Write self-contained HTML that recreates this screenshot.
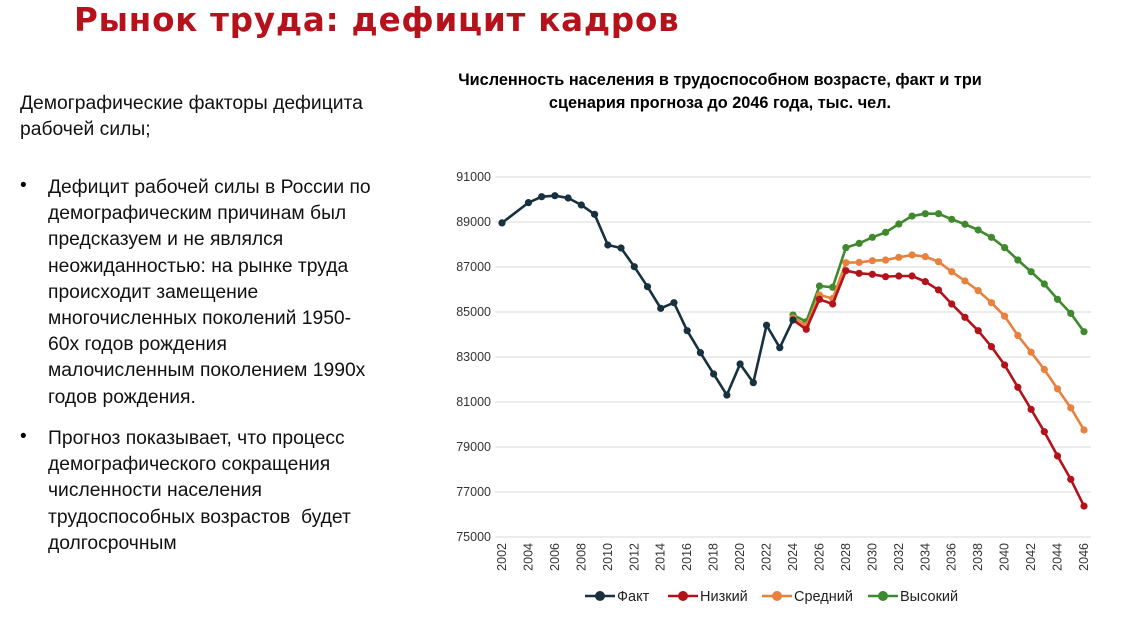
<!DOCTYPE html>
<html><head><meta charset="utf-8">
<style>
body{margin:0;width:1131px;height:617px;background:#fff;overflow:hidden;position:relative;font-family:"Liberation Sans","DejaVu Sans",sans-serif;}
.title{position:absolute;left:74px;top:1px;font-family:"DejaVu Sans",sans-serif;font-weight:bold;font-size:32.5px;color:#b5121b;letter-spacing:0.8px;}
.lt{position:absolute;font-size:19.3px;line-height:26.2px;color:#111;white-space:nowrap;}
.bul{position:absolute;left:20px;font-size:19px;}
.ct{position:absolute;left:420px;width:600px;top:69px;text-align:center;font-weight:bold;font-size:16.3px;line-height:23px;color:#000;}
</style></head><body>
<div class="title">Рынок труда: дефицит кадров</div>
<div class="lt" style="left:20px;top:91px">Демографические факторы дефицита<br>рабочей силы;</div>
<div class="bul" style="top:175px">•</div>
<div class="lt" style="left:48px;top:175px">Дефицит рабочей силы в России по<br>демографическим причинам был<br>предсказуем и не являлся<br>неожиданностью: на рынке труда<br>происходит замещение<br>многочисленных поколений 1950-<br>60х годов рождения<br>малочисленным поколением 1990х<br>годов рождения.</div>
<div class="bul" style="top:426px">•</div>
<div class="lt" style="left:48px;top:426px">Прогноз показывает, что процесс<br>демографического сокращения<br>численности населения<br>трудоспособных возрастов&nbsp; будет<br>долгосрочным</div>
<div class="ct">Численность населения в трудоспособном возрасте, факт и три<br>сценария прогноза до 2046 года, тыс. чел.</div>
<svg id="chart" width="1131" height="617" style="position:absolute;left:0;top:0"></svg>
<script>
const factYears=[2002,2004,2005,2006,2007,2008,2009,2010,2011,2012,2013,2014,2015,2016,2017,2018,2019,2020,2021,2022,2023,2024];
const factValues=[88960,89860,90125,90170,90067,89755,89340,87978,87845,87015,86125,85163,85415,84170,83193,82245,81310,82690,81860,84410,83415,84645];
const scenYears=[2024,2025,2026,2027,2028,2029,2030,2031,2032,2033,2034,2035,2036,2037,2038,2039,2040,2041,2042,2043,2044,2045,2046];
const lowValues=[84645,84230,85565,85355,86835,86720,86675,86570,86600,86600,86350,85980,85355,84765,84170,83460,82645,81655,80675,79680,78600,77565,76375];
const midValues=[84740,84400,85755,85600,87190,87205,87280,87310,87430,87535,87460,87235,86790,86380,85950,85415,84815,83955,83215,82445,81585,80740,79755];
const highValues=[84870,84570,86155,86100,87860,88050,88320,88540,88910,89265,89370,89370,89120,88900,88645,88320,87860,87310,86790,86245,85565,84940,84125];
const yTicks=[75000,77000,79000,81000,83000,85000,87000,89000,91000];
const xTicks=[2002,2004,2006,2008,2010,2012,2014,2016,2018,2020,2022,2024,2026,2028,2030,2032,2034,2036,2038,2040,2042,2044,2046];
const legendLabels=["Факт","Низкий","Средний","Высокий"];
const colors=["#17313f","#b3121b","#e8803e","#3f8a2e"];

const svg=document.getElementById('chart');
const NS='http://www.w3.org/2000/svg';
const X0=502,X1=1084,Y0=537,Y1=177;
const xs=y=>X0+(y-2002)*(X1-X0)/44;
const ys=v=>Y0-(v-75000)*(Y0-Y1)/16000;
function mk(t,a){const e=document.createElementNS(NS,t);for(const k in a)e.setAttribute(k,a[k]);svg.appendChild(e);return e;}
yTicks.forEach(t=>{
  const l=mk('line',{x1:495,x2:1091,y1:ys(t),y2:ys(t),stroke:'#d9d9d9','stroke-width':1});
  
  
  const tx=mk('text',{x:491,y:ys(t)+4,'text-anchor':'end','font-size':12.5,fill:'#333','font-family':'Liberation Sans, sans-serif'});
  tx.textContent=t;
  
  
});
xTicks.forEach(t=>{
  const tx=mk('text',{transform:`translate(${xs(t)+4},543) rotate(-90)`,'text-anchor':'end','font-size':12.5,fill:'#333','font-family':'Liberation Sans, sans-serif'});
  tx.textContent=t;
  
  
});
function series(years,vals,c,name){
  const p=mk('polyline',{points:years.map((y,i)=>xs(y)+','+ys(vals[i])).join(' '),fill:'none',stroke:c,'stroke-width':2.6,'stroke-linejoin':'round'});
  
  
  years.forEach((y,i)=>{
    const m=mk('circle',{cx:xs(y),cy:ys(vals[i]),r:3.6,fill:c});
    
    
  });
}
series(scenYears,highValues,colors[3],'high');
series(scenYears,midValues,colors[2],'mid');
series(scenYears,lowValues,colors[1],'low');
series(factYears,factValues,colors[0],'fact');
const lx=[585,668,762,868];
legendLabels.forEach((s,i)=>{
  const l=mk('line',{x1:lx[i],x2:lx[i]+30,y1:596,y2:596,stroke:colors[i],'stroke-width':2.5});
  
  
  const c=mk('circle',{cx:lx[i]+15,cy:596,r:5,fill:colors[i]});
  
  
  const t=mk('text',{x:lx[i]+32,y:601,'font-size':14.5,fill:'#222','font-family':'Liberation Sans, sans-serif'});
  t.textContent=s;
  
  
});
</script>
</body></html>
